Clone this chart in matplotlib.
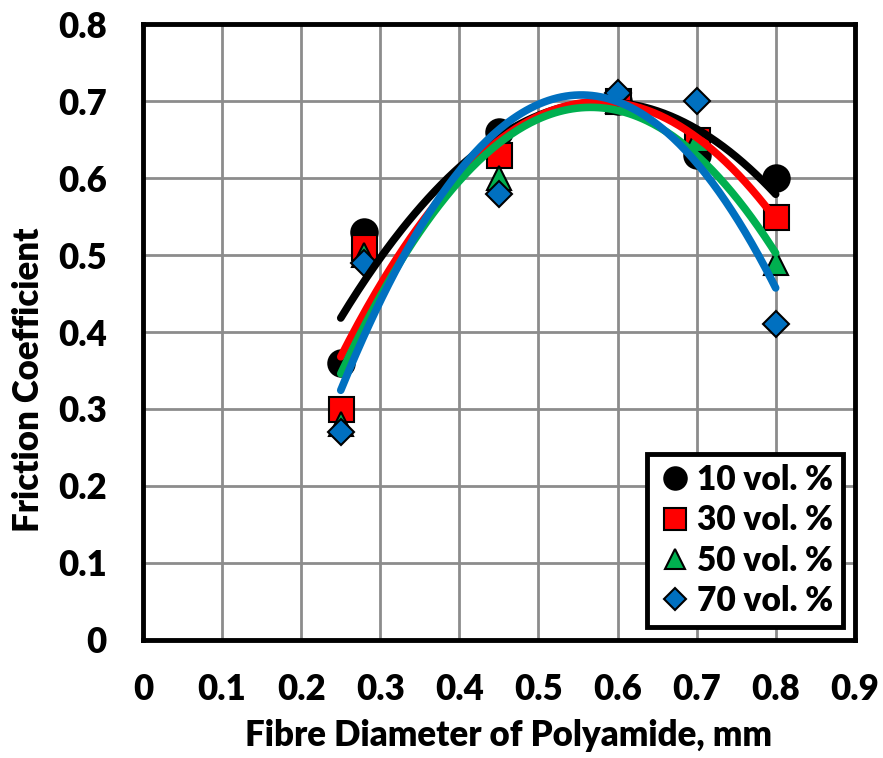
import numpy as np
import matplotlib.pyplot as plt

# fibre diameter (mm) and friction coefficient per polyamide volume fraction
diameter = [0.25, 0.28, 0.45, 0.60, 0.70, 0.80]
vol10 = [0.36, 0.53, 0.66, 0.70, 0.63, 0.60]
vol30 = [0.30, 0.51, 0.63, 0.70, 0.65, 0.55]
vol50 = [0.28, 0.50, 0.60, 0.70, 0.65, 0.49]
vol70 = [0.27, 0.49, 0.58, 0.71, 0.70, 0.41]
labels = ['10 vol. %', '30 vol. %', '50 vol. %', '70 vol. %']

plt.rcParams['font.family'] = ['Lato', 'DejaVu Sans']
plt.rcParams['font.weight'] = 'heavy'
plt.rcParams['axes.labelweight'] = 'heavy'

fig = plt.figure(figsize=(8.83, 7.58), dpi=100)
ax = fig.add_axes([0.162, 0.156, 0.806, 0.812])

styles = [('o', 'black', 'black', 19),
          ('s', 'red', 'red', 18),
          ('^', '#00b050', '#00b050', 17),
          ('D', '#0070c0', '#0070c0', 13)]
series = [vol10, vol30, vol50, vol70]

x = np.array(diameter)
xs = np.linspace(x.min(), x.max(), 200)

# markers
for ys, (m, fc, lc, ms), lab in zip(series, styles, labels):
    ax.plot(x, ys, linestyle='none', marker=m, markersize=ms,
            markerfacecolor=fc, markeredgecolor='black', markeredgewidth=1.5,
            label=lab, zorder=3)

# 2nd order polynomial trendlines
for ys, (m, fc, lc, ms) in zip(series, styles):
    coef = np.polyfit(x, ys, 2)
    ax.plot(xs, np.polyval(coef, xs), color=lc, linewidth=5.5,
            solid_capstyle='round', zorder=4)

ax.set_xlim(0, 0.9)
ax.set_ylim(0, 0.8)
ax.set_xticks(np.arange(0, 0.91, 0.1))
ax.set_yticks(np.arange(0, 0.81, 0.1))
ax.set_xticklabels(['0'] + ['%.1f' % v for v in np.arange(0.1, 0.91, 0.1)])
ax.set_yticklabels(['0'] + ['%.1f' % v for v in np.arange(0.1, 0.81, 0.1)])
ax.tick_params(labelsize=25, length=0)
ax.tick_params(axis='x', pad=24)
ax.tick_params(axis='y', pad=26)
ax.grid(True, color='#8c8c8c', linewidth=2)
ax.set_axisbelow(True)
for sp in ax.spines.values():
    sp.set_linewidth(3.5)
    sp.set_color('black')

ax.set_xlabel('Fibre Diameter of Polyamide, mm', fontsize=25, fontweight='heavy')
ax.set_ylabel('Friction Coefficient', fontsize=25, fontweight='heavy')
ax.xaxis.set_label_coords(0.514, -0.128)
ax.yaxis.set_label_coords(-0.138, 0.422)

leg = ax.legend(loc='lower right', bbox_to_anchor=(0.993, 0.01), fontsize=24,
                frameon=True, fancybox=False, handletextpad=0.1,
                borderpad=0.3, labelspacing=0.25, handlelength=1.1,
                markerscale=0.85, borderaxespad=0.2)
leg.get_frame().set_edgecolor('black')
leg.get_frame().set_linewidth(3.5)
leg.get_frame().set_alpha(1)

fig.savefig('out.png', dpi=100)
